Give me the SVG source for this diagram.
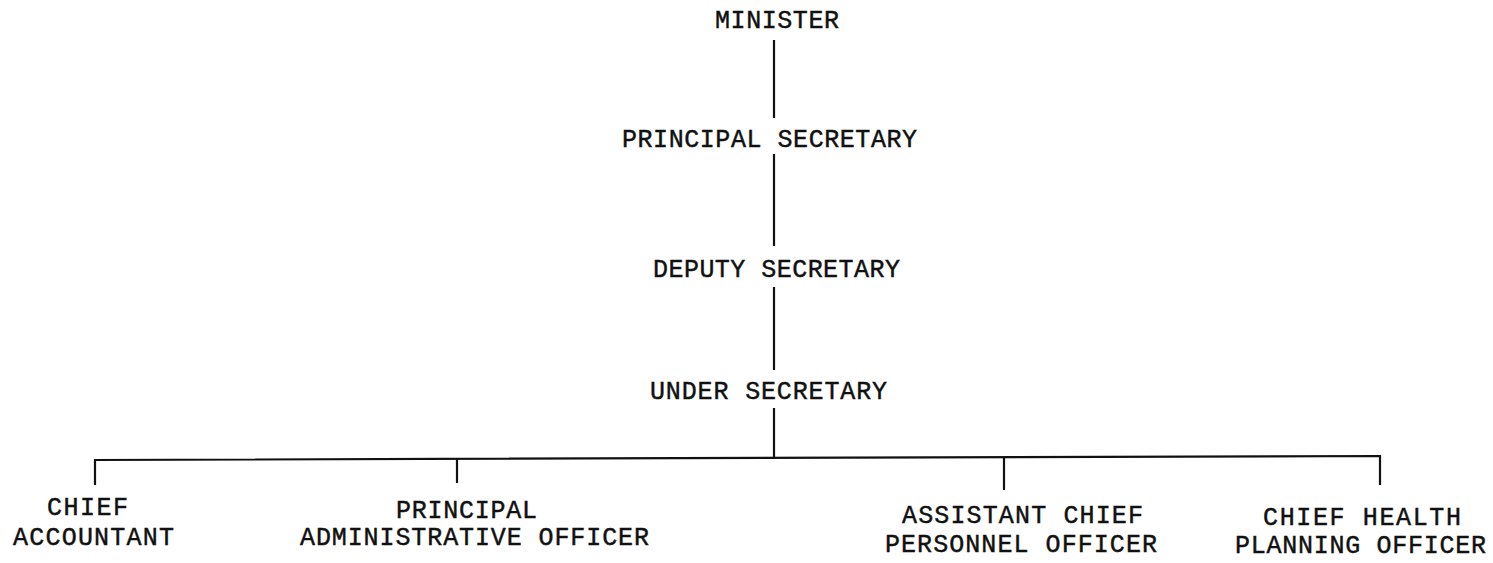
<svg xmlns="http://www.w3.org/2000/svg" width="1493" height="563" viewBox="0 0 1493 563">
<style>
text{font-family:"Liberation Mono","Courier New",monospace;font-size:25px;fill:#111;stroke:#111;stroke-width:0.45}
.ln{stroke:#111;stroke-width:2.2;fill:none}
</style>
<rect width="1493" height="563" fill="#fff"/>
<g id="connectors">
<line class="ln" x1="774" y1="40" x2="774" y2="118"/>
<line class="ln" x1="774" y1="154" x2="774" y2="246"/>
<line class="ln" x1="774" y1="287" x2="774" y2="370"/>
<line class="ln" x1="774" y1="408" x2="774" y2="459"/>
<polyline class="ln" points="95,485 95,460 1380,456 1380,485"/>
<line class="ln" x1="457" y1="459" x2="457" y2="483"/>
<line class="ln" x1="1004" y1="457" x2="1004" y2="490"/>
</g>
<g id="minister"><text x="715" y="28" textLength="124" lengthAdjust="spacing">MINISTER</text></g>
<g id="principal-secretary"><text x="622" y="147" textLength="295" lengthAdjust="spacing">PRINCIPAL SECRETARY</text></g>
<g id="deputy-secretary"><text x="653" y="277" textLength="247" lengthAdjust="spacing">DEPUTY SECRETARY</text></g>
<g id="under-secretary"><text x="650" y="399" textLength="237" lengthAdjust="spacing">UNDER SECRETARY</text></g>
<g id="chief-accountant"><text x="47" y="515" textLength="81" lengthAdjust="spacing">CHIEF</text><text x="13" y="545" textLength="161" lengthAdjust="spacing">ACCOUNTANT</text></g>
<g id="principal-admin-officer"><text x="396" y="518" textLength="141" lengthAdjust="spacing">PRINCIPAL</text><text x="300" y="545" textLength="349" lengthAdjust="spacing">ADMINISTRATIVE OFFICER</text></g>
<g id="asst-chief-personnel-officer"><text x="902" y="523" textLength="241" lengthAdjust="spacing">ASSISTANT CHIEF</text><text x="885" y="552" textLength="272" lengthAdjust="spacing">PERSONNEL OFFICER</text></g>
<g id="chief-health-planning-officer"><text x="1263" y="525" textLength="198" lengthAdjust="spacing">CHIEF HEALTH</text><text x="1235" y="553" textLength="251" lengthAdjust="spacing">PLANNING OFFICER</text></g>
</svg>
